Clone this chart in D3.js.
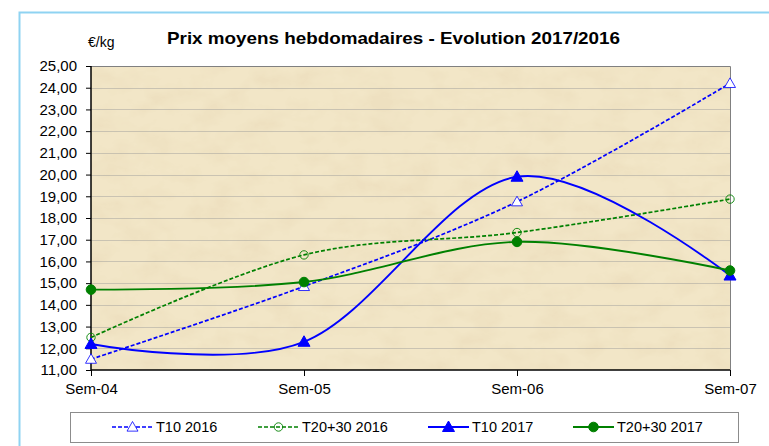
<!DOCTYPE html>
<html>
<head>
<meta charset="utf-8">
<script src="https://cdn.jsdelivr.net/npm/d3@7"></script>
<style>
  body { margin: 0; background: #fff; }
  svg { display: block; font-family: "Liberation Sans", Arial, sans-serif; }
</style>
</head>
<body>
<div id="chart"></div>
<script>
// data
var weeks = ["Sem-04", "Sem-05", "Sem-06", "Sem-07"];
var t10_2016 = [11.5, 14.85, 18.75, 24.2];
var t2030_2016 = [12.5, 16.3, 17.33, 18.87];
var t10_2017 = [12.2, 12.3, 19.9, 15.35];
var t2030_2017 = [14.7, 15.05, 16.9, 15.58];
var yTicks = [11, 12, 13, 14, 15, 16, 17, 18, 19, 20, 21, 22, 23, 24, 25];

var series = [
  { name: "T10 2016", values: t10_2016, color: "#0000ff", dash: "4,2", marker: "triangle", filled: false },
  { name: "T20+30 2016", values: t2030_2016, color: "#008000", dash: "4,2", marker: "circle", filled: false },
  { name: "T10 2017", values: t10_2017, color: "#0000ff", dash: null, marker: "triangle", filled: true },
  { name: "T20+30 2017", values: t2030_2017, color: "#008000", dash: null, marker: "circle", filled: true }
];

var W = 769, H = 446;
var plot = { left: 91, top: 66, right: 730, bottom: 370 };

var svg = d3.select("#chart").append("svg")
  .attr("width", W)
  .attr("height", H);

// parchment texture
var defs = svg.append("defs");
var f = defs.append("filter").attr("id", "parch")
  .attr("x", 0).attr("y", 0).attr("width", 1).attr("height", 1);
f.append("feTurbulence").attr("type", "fractalNoise")
  .attr("baseFrequency", "0.03 0.045").attr("numOctaves", 5).attr("seed", 11).attr("result", "noise");
f.append("feColorMatrix").attr("in", "noise").attr("type", "matrix")
  .attr("values", "0 0 0 0 0.86  0 0 0 0 0.75  0 0 0 0 0.53  2.6 0 0 0 -1.05")
  .attr("result", "spots");
f.append("feFlood").attr("flood-color", "#f2e6c7").attr("result", "base");
f.append("feComposite").attr("in", "spots").attr("in2", "base").attr("operator", "over");

// outer frame (only top and left visible)
svg.append("path")
  .attr("d", "M19.5," + H + "V12.5H" + W)
  .attr("fill", "none")
  .attr("stroke", "#8fd3f2")
  .attr("stroke-width", 2);

var x = d3.scalePoint().domain(weeks).range([plot.left, plot.right]);
var y = d3.scaleLinear().domain([11, 25]).range([plot.bottom, plot.top]);

svg.append("rect")
  .attr("x", plot.left).attr("y", plot.top)
  .attr("width", plot.right - plot.left).attr("height", plot.bottom - plot.top)
  .attr("filter", "url(#parch)");

// gridlines
svg.append("g").selectAll("line")
  .data(yTicks.slice(1, -1))
  .enter().append("line")
  .attr("x1", plot.left).attr("x2", plot.right)
  .attr("y1", function (d) { return Math.round(y(d)) + 0.5; })
  .attr("y2", function (d) { return Math.round(y(d)) + 0.5; })
  .attr("stroke", "#9a9a9a")
  .attr("stroke-opacity", 0.45)
  .attr("stroke-width", 1);

// top & right border
svg.append("path")
  .attr("d", "M" + plot.left + "," + (plot.top + 0.5) + "H" + (plot.right + 0.5) + "V" + plot.bottom)
  .attr("fill", "none").attr("stroke", "#808080").attr("stroke-width", 1);

// axes
var yAxis = svg.append("g")
  .attr("transform", "translate(" + plot.left + ",0)")
  .call(d3.axisLeft(y).tickValues(yTicks).tickSize(5).tickPadding(9)
    .tickFormat(function (d) { return d3.format(".2f")(d).replace(".", ","); }));
var xAxis = svg.append("g")
  .attr("transform", "translate(0," + plot.bottom + ")")
  .call(d3.axisBottom(x).tickSize(6).tickPadding(7));
[yAxis, xAxis].forEach(function (a) {
  a.select(".domain").attr("stroke", "#000").attr("stroke-width", 1.5);
  a.selectAll(".tick line").attr("stroke", "#000");
  a.selectAll("text").attr("font-size", 15).attr("fill", "#000")
    .attr("font-family", "Liberation Sans, Arial, sans-serif");
});
xAxis.select(".domain").attr("d", "M" + plot.left + ",0H" + plot.right);
yAxis.select(".domain").attr("d", "M0," + plot.top + "V" + plot.bottom);

// title and unit
svg.append("text")
  .attr("x", 167).attr("y", 44)
  .attr("font-size", 17).attr("font-weight", "bold")
  .attr("textLength", 453).attr("lengthAdjust", "spacingAndGlyphs")
  .text("Prix moyens hebdomadaires - Evolution 2017/2016");
svg.append("text")
  .attr("x", 88).attr("y", 47)
  .attr("font-size", 14)
  .text("€/kg");

var line = d3.line()
  .x(function (d, i) { return x(weeks[i]); })
  .y(function (d) { return y(d); })
  .curve(d3.curveCardinal.tension(0));

function drawMarker(g, s, cx, cy) {
  if (s.marker === "triangle") {
    var r = s.filled ? 6 : 5.5;
    g.append("path")
      .attr("d", "M" + cx + "," + (cy - r) + "L" + (cx + r) + "," + (cy + r * 0.75) + "L" + (cx - r) + "," + (cy + r * 0.75) + "Z")
      .attr("fill", s.filled ? s.color : "#ffffff")
      .attr("stroke", s.color)
      .attr("stroke-width", s.filled ? 1 : 0.8);
  } else {
    g.append("circle")
      .attr("cx", cx).attr("cy", cy)
      .attr("r", s.filled ? 4.8 : 4.2)
      .attr("fill", s.filled ? s.color : "none")
      .attr("stroke", s.color)
      .attr("stroke-width", s.filled ? 1 : 0.9);
  }
}

series.forEach(function (s) {
  var g = svg.append("g");
  g.append("path")
    .attr("d", line(s.values))
    .attr("fill", "none")
    .attr("stroke", s.color)
    .attr("stroke-width", s.dash ? 1.7 : 1.9)
    .attr("stroke-dasharray", s.dash);
  s.values.forEach(function (v, i) {
    drawMarker(g, s, x(weeks[i]), y(v));
  });
});

// legend
var legend = svg.append("g");
legend.append("rect")
  .attr("x", 70.5).attr("y", 412.5)
  .attr("width", 668).attr("height", 30)
  .attr("fill", "#fff")
  .attr("stroke", "#8c8c8c");
var legendX = [112, 258, 428, 573];
series.forEach(function (s, i) {
  var lg = legend.append("g");
  var x0 = legendX[i], yy = 427;
  lg.append("line")
    .attr("x1", x0).attr("x2", x0 + 41)
    .attr("y1", yy).attr("y2", yy)
    .attr("stroke", s.color)
    .attr("stroke-width", s.dash ? 1.7 : 1.9)
    .attr("stroke-dasharray", s.dash);
  drawMarker(lg, s, x0 + 20.5, yy);
  lg.append("text")
    .attr("x", x0 + 44).attr("y", yy + 5)
    .attr("font-size", 14.5)
    .text(s.name);
});
</script>
</body>
</html>
